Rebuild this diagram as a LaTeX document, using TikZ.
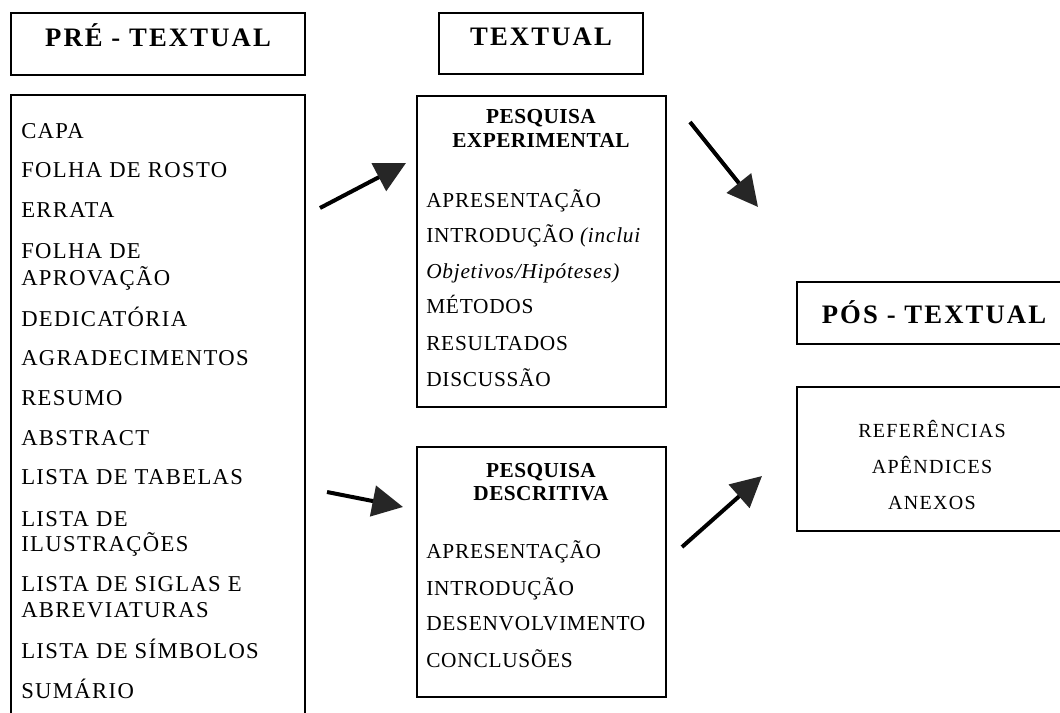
\documentclass[tikz,border=0pt]{standalone}
\usepackage{fontspec}
\setmainfont{Liberation Serif}
\newfontfamily\listfont[LetterSpace=6]{Liberation Serif}
\newfontfamily\bodyfont[LetterSpace=3.5]{Liberation Serif}
\newfontfamily\headfont[LetterSpace=2]{Liberation Serif}
\newfontfamily\titlefont[LetterSpace=8]{Liberation Serif}
\newfontfamily\anexfont[LetterSpace=6.5]{Liberation Serif}
\usetikzlibrary{arrows.meta}
\tikzset{
  box/.style={draw=black, line width=1.1pt},
  titletxt/.style={inner sep=0pt, anchor=base, font=\titlefont\bfseries\fontsize{20}{24}\selectfont},
  listtxt/.style={inner sep=0pt, anchor=base west, font=\listfont\fontsize{17}{20}\selectfont},
  bodytxt/.style={inner sep=0pt, anchor=base west, font=\bodyfont\fontsize{16}{19}\selectfont},
  headtxt/.style={inner sep=0pt, anchor=base, font=\headfont\bfseries\fontsize{16}{19}\selectfont},
  anextxt/.style={inner sep=0pt, anchor=base, font=\anexfont\fontsize{15}{18}\selectfont},
  arr/.style={line width=3pt, black, -{Triangle[length=23pt,width=23pt,color=black!85,fill=black!85]}}
}
\begin{document}
\begin{tikzpicture}[x=0.75pt,y=-0.75pt]
\useasboundingbox (0,0) rectangle (1060,713);
% boxes
\draw[box] (11,13) rectangle (305,75);
\draw[box] (11,730) -- (11,95) -- (305,95) -- (305,730);
\draw[box] (439,13) rectangle (643,74);
\draw[box] (417,96) rectangle (666,407);
\draw[box] (417,447) rectangle (666,697);
\draw[box] (1070,282) -- (797,282) -- (797,344) -- (1070,344);
\draw[box] (1070,387) -- (797,387) -- (797,531) -- (1070,531);
% titles
\node[titletxt] (pre) at (158,47) {PRÉ - TEXTUAL};
\node[titletxt] (tex) at (541,46) {TEXTUAL};
\node[titletxt] (pos) at (934,323) {PÓS - TEXTUAL};
% left list
\node[listtxt] (l1) at (21,139) {CAPA};
\node[listtxt] (l2) at (21,178) {FOLHA DE ROSTO};
\node[listtxt] (l3) at (21,218) {ERRATA};
\node[listtxt] (l4a) at (21,258) {FOLHA DE};
\node[listtxt] (l4b) at (21,285) {APROVAÇÃO};
\node[listtxt] (l5) at (21,326) {DEDICATÓRIA};
\node[listtxt] (l6) at (21,365) {AGRADECIMENTOS};
\node[listtxt] (l7) at (21,405) {RESUMO};
\node[listtxt] (l8) at (21,445) {ABSTRACT};
\node[listtxt] (l9) at (21,484) {LISTA DE TABELAS};
\node[listtxt] (l10a) at (21,526) {LISTA DE};
\node[listtxt] (l10b) at (21,551) {ILUSTRAÇÕES};
\node[listtxt] (l11a) at (21,591) {LISTA DE SIGLAS E};
\node[listtxt] (l11b) at (21,617) {ABREVIATURAS};
\node[listtxt] (l12) at (21,658) {LISTA DE SÍMBOLOS};
\node[listtxt] (l13) at (21,698) {SUMÁRIO};
% experimental
\node[headtxt] (e0a) at (541,124) {PESQUISA};
\node[headtxt] (e0b) at (541,148) {EXPERIMENTAL};
\node[bodytxt] (e1) at (426,208) {APRESENTAÇÃO};
\node[bodytxt] (e2) at (426,243) {INTRODUÇÃO \textit{(inclui}};
\node[bodytxt] (e3) at (426,278) {\textit{Objetivos/Hipóteses)}};
\node[bodytxt] (e4) at (426,313) {MÉTODOS};
\node[bodytxt] (e5) at (426,350) {RESULTADOS};
\node[bodytxt] (e6) at (426,386) {DISCUSSÃO};
% descriptive
\node[headtxt] (d0a) at (541,477) {PESQUISA};
\node[headtxt] (d0b) at (541,500) {DESCRITIVA};
\node[bodytxt] (d1) at (426,558) {APRESENTAÇÃO};
\node[bodytxt] (d2) at (426,595) {INTRODUÇÃO};
\node[bodytxt] (d3) at (426,630) {DESENVOLVIMENTO};
\node[bodytxt] (d4) at (426,667) {CONCLUSÕES};
% pos list
\node[anextxt] (p1) at (932,437) {REFERÊNCIAS};
\node[anextxt] (p2) at (932,473) {APÊNDICES};
\node[anextxt] (p3) at (932,509) {ANEXOS};
% arrows
\coordinate (a1s) at (320,208); \coordinate (a1e) at (406,163);
\coordinate (a2s) at (690,122); \coordinate (a2e) at (758,207);
\coordinate (a3s) at (327,492); \coordinate (a3e) at (403,507);
\coordinate (a4s) at (682,547); \coordinate (a4e) at (762,476);
\draw[arr] (a1s) -- (a1e);
\draw[arr] (a2s) -- (a2e);
\draw[arr] (a3s) -- (a3e);
\draw[arr] (a4s) -- (a4e);
\end{tikzpicture}
\end{document}
